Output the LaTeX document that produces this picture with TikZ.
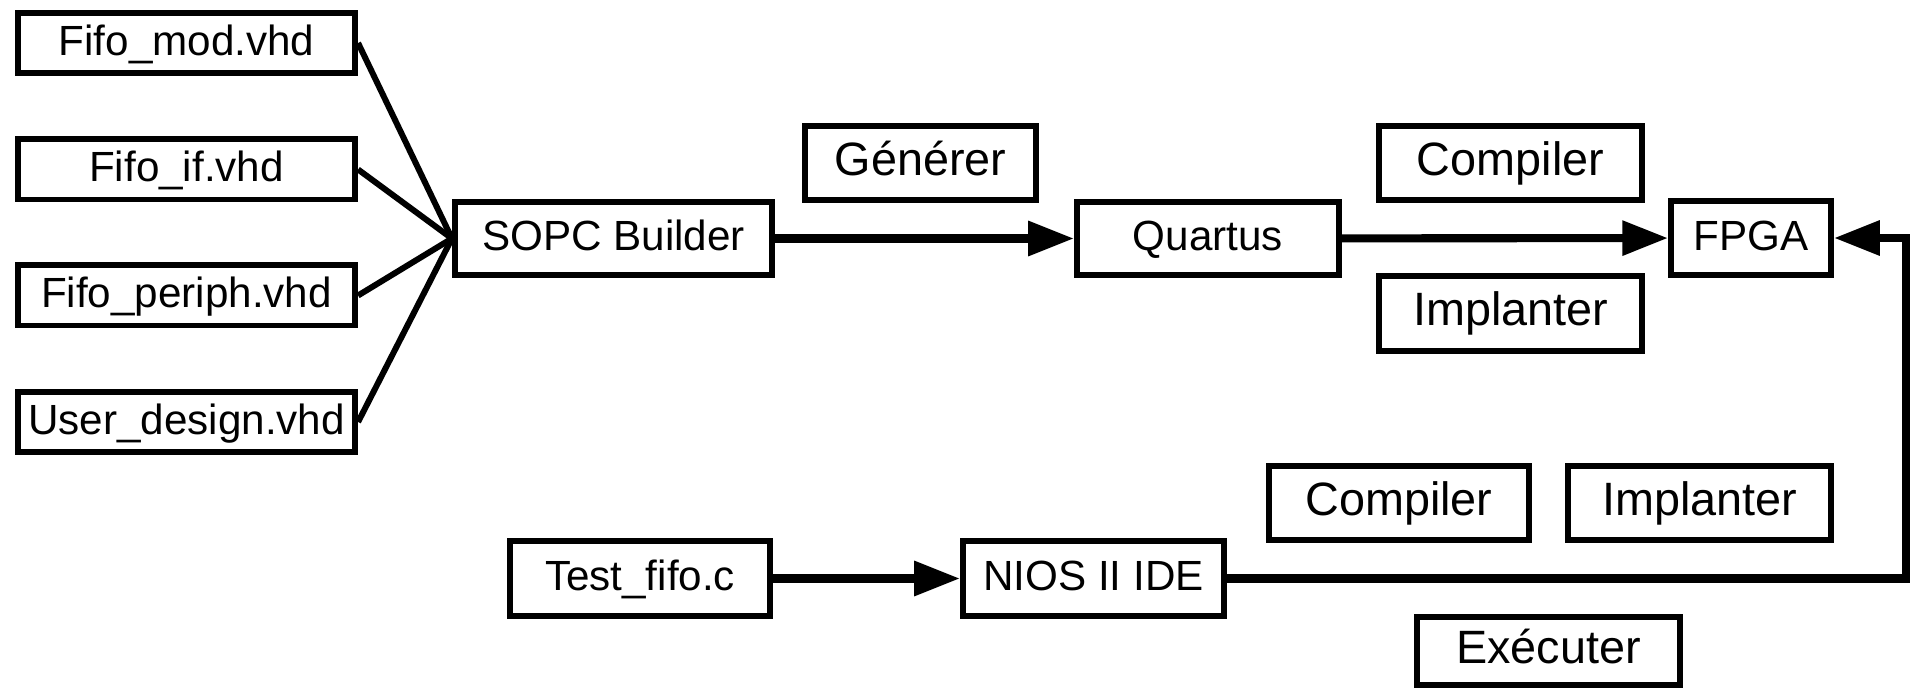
\documentclass[tikz,border=0pt]{standalone}
\usepackage{fontspec}
\setmainfont{Liberation Sans}
\usepackage{tikz}
\usetikzlibrary{shapes, arrows.meta, positioning}

\begin{document}
\begin{tikzpicture}
  [
    x=0.01cm, y=-0.01cm,
    File/.style={rectangle, draw=black, line width=1.7pt, fill=white, inner sep=0pt, minimum height=0.73cm, text height=0.7em, text depth=0em, font=\fontsize{12}{14}\selectfont},
    Action/.style={File, minimum height=0.74cm, font=\fontsize{13.3}{16}\selectfont},
    Flow/.style={draw, line width=2.3pt, -{Triangle[length=13pt, width=9.5pt]}},
    Fan/.style={draw, line width=1.7pt}
  ]
  \useasboundingbox (0,0) rectangle (1919,692);

  % Nodes
  \node[File, minimum width=3.37cm, minimum height=0.60cm] (fmod) at(186.5, 43) {Fifo\_mod.vhd};
  \node[File, minimum width=3.37cm, minimum height=0.60cm] (fif) at(186.5, 169.5) {Fifo\_if.vhd};
  \node[File, minimum width=3.37cm, minimum height=0.60cm] (fper) at(186.5, 295.5) {Fifo\_periph.vhd};
  \node[File, minimum width=3.37cm, minimum height=0.60cm] (fuser) at(186.5, 422) {User\_design.vhd};
  \node[File, minimum width=3.17cm] (sopc) at(613.5, 238.5) {SOPC Builder};
  \node[Action, minimum width=2.31cm] (gen) at(920.5, 163) {Générer};
  \node[File, minimum width=2.62cm] (quartus) at(1208, 238.5) {Quartus};
  \node[Action, minimum width=2.63cm] (comp1) at(1510.5, 163) {Compiler};
  \node[Action, minimum width=2.63cm, minimum height=0.75cm] (impl1) at(1510.5, 313.5) {Implanter};
  \node[File, minimum width=1.60cm, minimum height=0.74cm] (fpga) at(1751, 238) {FPGA};
  \node[File, minimum width=2.60cm, minimum height=0.75cm] (test) at(640, 578.5) {Test\_fifo.c};
  \node[File, minimum width=2.61cm, minimum height=0.75cm] (nios) at(1093.5, 578.5) {NIOS II IDE};
  \node[Action, minimum width=2.60cm] (comp2) at(1399, 503) {Compiler};
  \node[Action, minimum width=2.63cm] (impl2) at(1699.5, 503) {Implanter};
  \node[Action, minimum width=2.63cm, minimum height=0.68cm] (exec) at(1548.5, 651) {Exécuter};
  \coordinate (corner) at(1906, 578.5);

  % Lines
  \path [Fan] (fmod.east) -- (sopc.west);
  \path [Fan] (fif.east) -- (sopc.west);
  \path [Fan] (fper.east) -- (sopc.west);
  \path [Fan] (fuser.east) -- (sopc.west);
  \path [Flow] (sopc) -- (quartus);
  \path [Flow] (quartus) -- (fpga);
  \path [Flow] (test) -- (nios);
  \path [Flow] (nios.east) -- (corner) |- (fpga.east);

\end{tikzpicture}
\end{document}
